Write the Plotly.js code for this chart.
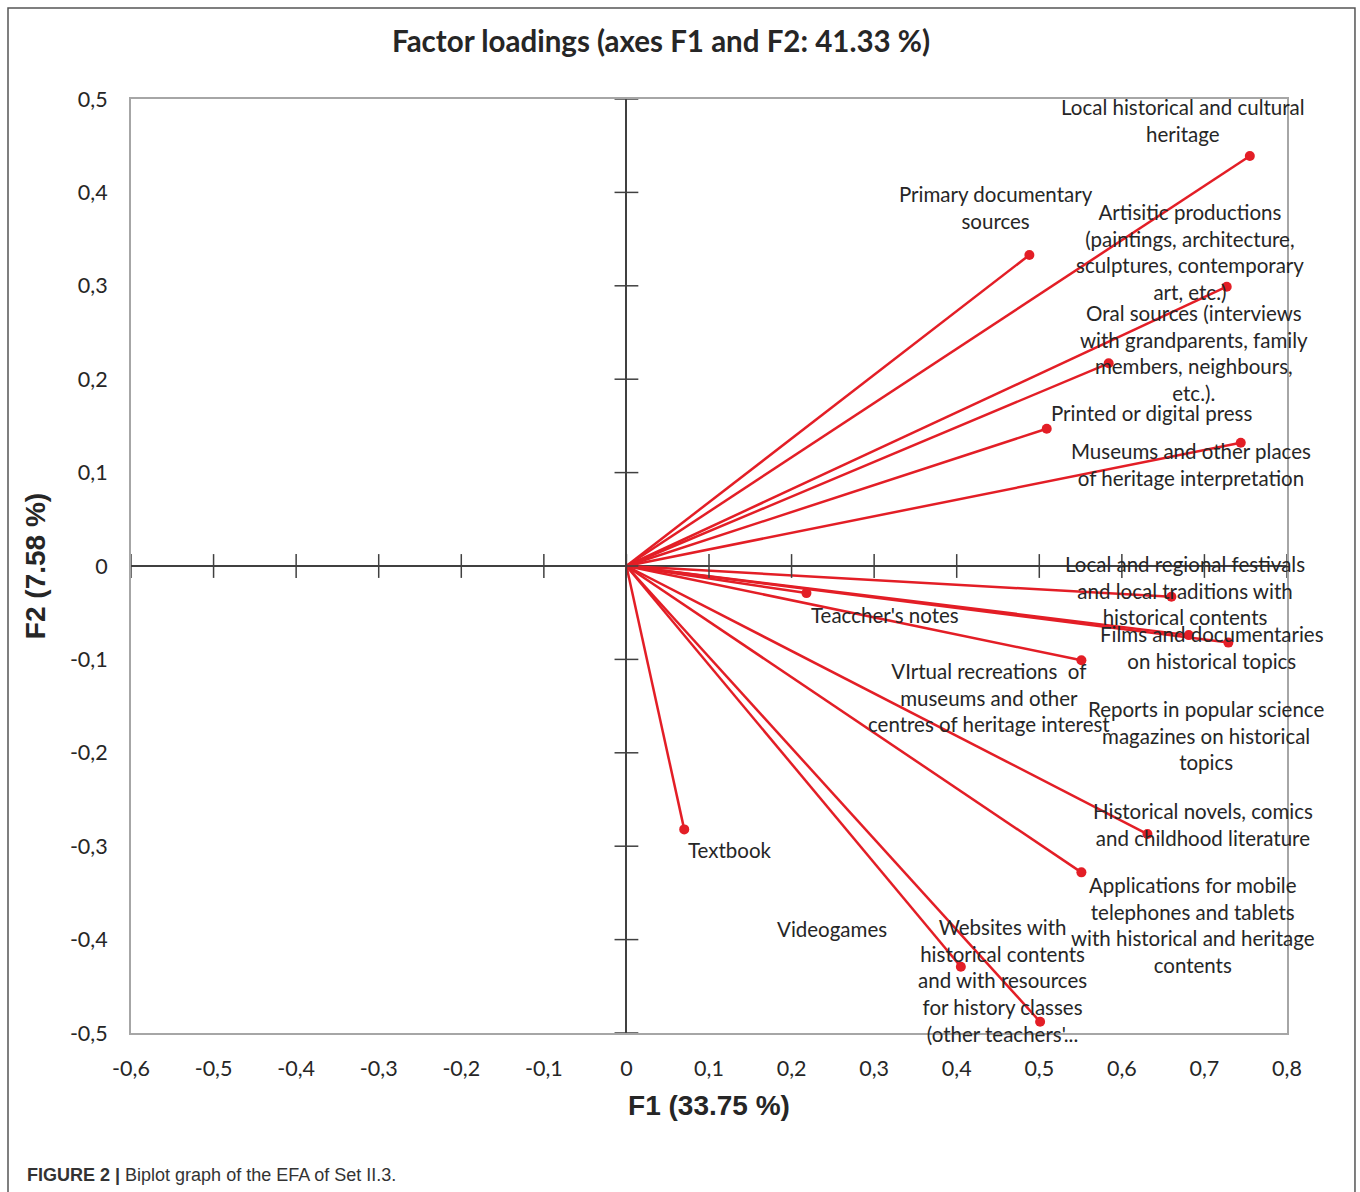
<!DOCTYPE html>
<html>
<head>
<meta charset="utf-8">
<script src="https://cdn.plot.ly/plotly-3.0.1.min.js"></script>
<style>html,body{margin:0;padding:0;background:#fff;}#chart{width:1360px;height:1192px;}</style>
</head>
<body>
<div id="chart"></div>
<script>
// ---- data ----
const variables = [
  "Local historical and cultural<br>heritage",
  "Primary documentary<br>sources",
  "Artisitic productions<br>(paintings, architecture,<br>sculptures, contemporary<br>art, etc.)",
  "Oral sources (interviews<br>with grandparents, family<br>members, neighbours,<br>etc.).",
  "Printed or digital press",
  "Museums and other places<br>of heritage interpretation",
  "Local and regional festivals<br>and local traditions with<br>historical contents",
  "Teaccher's notes",
  "Films and documentaries<br>on historical topics",
  "Reports in popular science<br>magazines on historical<br>topics",
  "VIrtual recreations  of<br>museums and other<br>centres of heritage interest",
  "Historical novels, comics<br>and childhood literature",
  "Applications for mobile<br>telephones and tablets<br>with historical and heritage<br>contents",
  "Textbook",
  "Videogames",
  "Websites with<br>historical contents<br>and with resources<br>for history classes<br>(other teachers'..."
];
const f1 = [0.755, 0.488, 0.727, 0.584, 0.509, 0.744, 0.660, 0.218, 0.681, 0.729, 0.551, 0.631, 0.551, 0.070, 0.405, 0.501];
const f2 = [0.439, 0.333, 0.299, 0.217, 0.147, 0.132, -0.033, -0.029, -0.074, -0.082, -0.101, -0.287, -0.328, -0.282, -0.429, -0.488];
const xTicks = [-0.6, -0.5, -0.4, -0.3, -0.2, -0.1, 0, 0.1, 0.2, 0.3, 0.4, 0.5, 0.6, 0.7, 0.8];
const xTickText = ["-0,6", "-0,5", "-0,4", "-0,3", "-0,2", "-0,1", "0", "0,1", "0,2", "0,3", "0,4", "0,5", "0,6", "0,7", "0,8"];
const yTicks = [-0.5, -0.4, -0.3, -0.2, -0.1, 0, 0.1, 0.2, 0.3, 0.4, 0.5];
const yTickText = ["-0,5", "-0,4", "-0,3", "-0,2", "-0,1", "0", "0,1", "0,2", "0,3", "0,4", "0,5"];

// label placement (centre of each label block, in axis units)
const labelX = [0.674, 0.448, 0.683, 0.687, 0.636, 0.684, 0.677, 0.313, 0.709, 0.702, 0.439, 0.698, 0.686, 0.125, 0.249, 0.456];
const labelY = [0.477, 0.384, 0.336, 0.228, 0.164, 0.109, -0.026, -0.052, -0.087, -0.181, -0.141, -0.277, -0.384, -0.304, -0.389, -0.444];

const RED = '#e31e26';
const labelFont = {family: 'Lato, "Open Sans", sans-serif', size: 20.5, color: '#262626'};

// vectors from origin
const vx = [], vy = [];
f1.forEach((v, i) => { vx.push(0, v, null); vy.push(0, f2[i], null); });

const traces = [
  {x: vx, y: vy, mode: 'lines', line: {color: RED, width: 2.5}, hoverinfo: 'skip', showlegend: false},
  {x: f1, y: f2, mode: 'markers', marker: {color: RED, size: 10}, text: variables, hoverinfo: 'text', showlegend: false},
  // cross ticks on the zero axes
  {x: xTicks, y: xTicks.map(() => 0), mode: 'markers', hoverinfo: 'skip', showlegend: false,
   marker: {symbol: 'line-ns', size: 17, line: {color: '#404040', width: 1.5}}},
  {x: yTicks.map(() => 0), y: yTicks, mode: 'markers', hoverinfo: 'skip', showlegend: false,
   marker: {symbol: 'line-ew', size: 17, line: {color: '#404040', width: 1.5}}}
];

const annotations = variables.map((t, i) => ({
  x: labelX[i], y: labelY[i], xref: 'x', yref: 'y', text: t, showarrow: false,
  xanchor: 'center', yanchor: 'middle', align: 'center', font: labelFont
}));
annotations.push({
  xref: 'paper', yref: 'paper', x: -0.0917, y: -0.1515, xanchor: 'left', yanchor: 'middle',
  showarrow: false, align: 'left',
  text: '<b>FIGURE 2 |</b> Biplot graph of the EFA of Set II.3.',
  font: {family: '"Liberation Sans Narrow", "Arial Narrow", "Liberation Sans", sans-serif', size: 18, color: '#333'}
});

const tickFont = {family: 'Lato, "Open Sans", sans-serif', size: 21.5, color: '#262626'};
const layout = {
  width: 1360, height: 1192,
  margin: {l: 131, r: 73, t: 99, b: 159},
  paper_bgcolor: '#fff', plot_bgcolor: '#fff',
  title: {text: '<b>Factor loadings (axes F1 and F2: 41.33 %)</b>', x: 0.4585, xref: 'paper', xanchor: 'center',
          y: 1 - 42/1192, yanchor: 'middle',
          font: {family: 'Lato, "Open Sans", sans-serif', size: 29.5, color: '#262626'}},
  xaxis: {range: [-0.6, 0.8], tickvals: xTicks, ticktext: xTickText, ticks: '', showgrid: false,
          zeroline: true, zerolinecolor: '#404040', zerolinewidth: 2,
          showline: true, mirror: true, linecolor: '#a6a6a6', linewidth: 2,
          tickfont: tickFont, ticklabelstandoff: 15,
          title: {text: '<b>F1 (33.75 %)</b>', standoff: 16,
                  font: {family: '"Liberation Sans", Arial, sans-serif', size: 28, color: '#262626'}}},
  yaxis: {range: [-0.5, 0.5], tickvals: yTicks, ticktext: yTickText, ticks: '', showgrid: false,
          zeroline: true, zerolinecolor: '#404040', zerolinewidth: 2,
          showline: true, mirror: true, linecolor: '#a6a6a6', linewidth: 2,
          tickfont: tickFont, ticklabelstandoff: 17,
          title: {text: '<b>F2 (7.58 %)</b>', standoff: 16,
                  font: {family: '"Liberation Sans", Arial, sans-serif', size: 28, color: '#262626'}}},
  annotations: annotations,
  shapes: [{type: 'rect', xref: 'paper', yref: 'paper', x0: -0.1064, x1: 1.0588, y0: -0.175, y1: 1.0974,
            line: {color: '#555', width: 1.5}, fillcolor: 'rgba(0,0,0,0)', layer: 'below'}]
};

Plotly.newPlot('chart', traces, layout, {displayModeBar: false});
</script>
</body>
</html>
